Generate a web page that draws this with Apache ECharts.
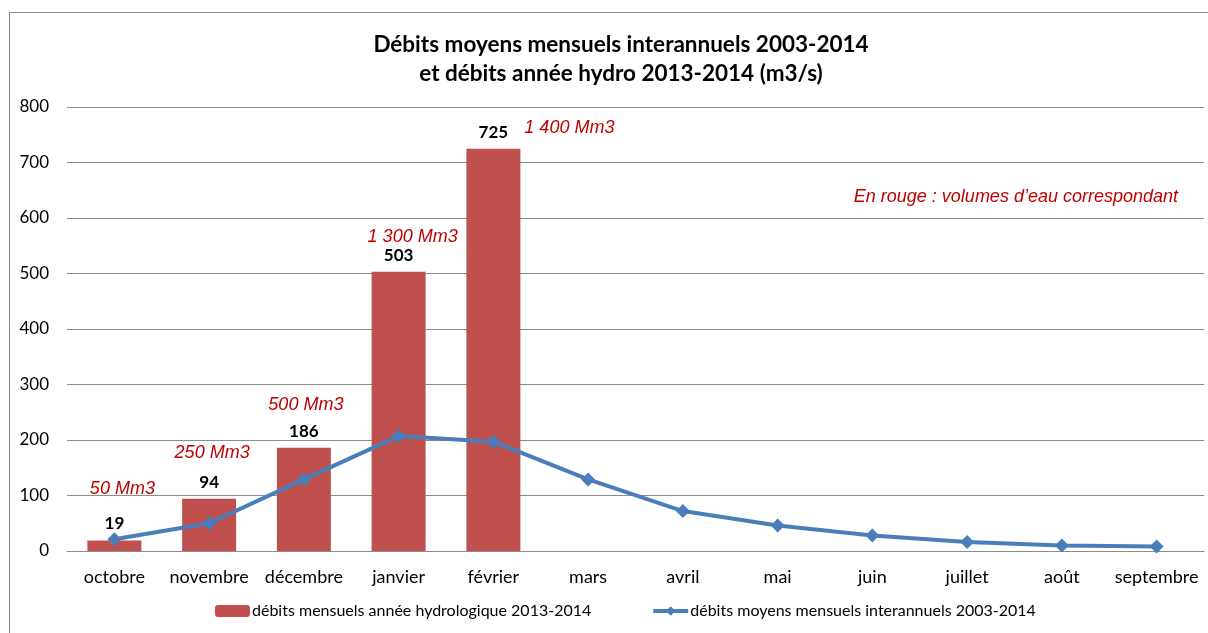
<!DOCTYPE html>
<html>
<head>
<meta charset="utf-8">
<script src="https://cdn.jsdelivr.net/npm/echarts@6/dist/echarts.min.js"></script>
<style>
  html, body { margin: 0; padding: 0; background: #fff; }
  #chart { width: 1208px; height: 633px; }
</style>
</head>
<body>
<div id="chart"></div>
<script>
// données
const mois = ["octobre", "novembre", "décembre", "janvier", "février", "mars", "avril", "mai", "juin", "juillet", "août", "septembre"];
const debitsAnnee = [19, 94, 186, 503, 725, null, null, null, null, null, null, null];
const debitsMoyens = [21, 50, 129, 207, 197, 129, 72, 46, 28, 16, 10, 8];
const volumes = ["50 Mm3", "250 Mm3", "500 Mm3", "1 300 Mm3", "1 400 Mm3"];
const yTicks = [0, 100, 200, 300, 400, 500, 600, 700, 800];

// décalage des étiquettes rouges (mise en page)
const volumeShift = [[8, -42], [3, -37], [2, -34], [14, -26], [76, -12]];

const calibri = "Lato";
const rouge = "#c00000";

var myChart = echarts.init(document.getElementById("chart"));

myChart.setOption({
  animation: false,
  title: {
    text: "Débits moyens mensuels interannuels 2003-2014\net débits année hydro 2013-2014 (m3/s)",
    left: 616,
    top: 25,
    textAlign: "center",
    textStyle: {
      fontFamily: calibri,
      fontWeight: "bold",
      fontSize: 22.5,
      lineHeight: 29,
      color: "#000"
    }
  },
  graphic: [
    {
      type: "rect",
      shape: { x: 9.5, y: 12.5, width: 1220, height: 640 },
      style: { fill: "none", stroke: "#8a8a8a", lineWidth: 1 },
      silent: true
    },
    {
      type: "text",
      right: 30,
      top: 188,
      style: {
        text: "En rouge : volumes d’eau correspondant",
        fill: rouge,
        font: "italic 18px 'Liberation Sans'"
      }
    }
  ],
  legend: {
    bottom: 9,
    left: 210,
    itemWidth: 35,
    itemHeight: 12,
    itemGap: 60,
    lineStyle: { width: 4 },
    data: ["débits mensuels année hydrologique 2013-2014", "débits moyens mensuels interannuels 2003-2014"],
    textStyle: { fontFamily: calibri, fontSize: 16, color: "#000", padding: [0, 0, 0, -3] }
  },
  grid: {
    left: 67,
    right: 4,
    top: 107,
    bottom: 82
  },
  xAxis: {
    type: "category",
    data: mois,
    axisTick: { show: false },
    axisLine: { lineStyle: { color: "#8c8c8c", width: 1 } },
    axisLabel: { interval: 0, fontFamily: calibri, fontSize: 18, color: "#000", margin: 17 }
  },
  yAxis: {
    type: "value",
    min: yTicks[0],
    max: yTicks[yTicks.length - 1],
    interval: 100,
    axisLine: { show: false },
    axisTick: { show: false },
    axisLabel: { fontFamily: calibri, fontSize: 17, color: "#000", margin: 18 },
    splitLine: { lineStyle: { color: "#8c8c8c", width: 1 } }
  },
  series: [
    {
      name: "débits mensuels année hydrologique 2013-2014",
      type: "bar",
      data: debitsAnnee,
      barWidth: "57%",
      itemStyle: { color: "#c0504d" },
      label: {
        show: true,
        position: "top",
        distance: 8,
        fontFamily: calibri,
        fontWeight: "bold",
        fontSize: 17,
        color: "#000"
      },
      z: 2
    },
    {
      name: "volumes",
      type: "bar",
      barGap: "-100%",
      barWidth: "57%",
      data: volumes.map((v, i) => ({
        value: debitsAnnee[i],
        label: { offset: volumeShift[i] }
      })),
      itemStyle: { color: "transparent" },
      label: {
        show: true,
        position: "top",
        distance: 0,
        formatter: (p) => volumes[p.dataIndex],
        fontFamily: "Liberation Sans",
        fontStyle: "italic",
        fontSize: 18,
        color: rouge
      },
      silent: true,
      z: 1
    },
    {
      name: "débits moyens mensuels interannuels 2003-2014",
      type: "line",
      data: debitsMoyens,
      symbol: "diamond",
      symbolSize: 14,
      lineStyle: { color: "#4a7ebb", width: 4 },
      itemStyle: { color: "#4a7ebb" },
      z: 3
    }
  ]
});
</script>
</body>
</html>
